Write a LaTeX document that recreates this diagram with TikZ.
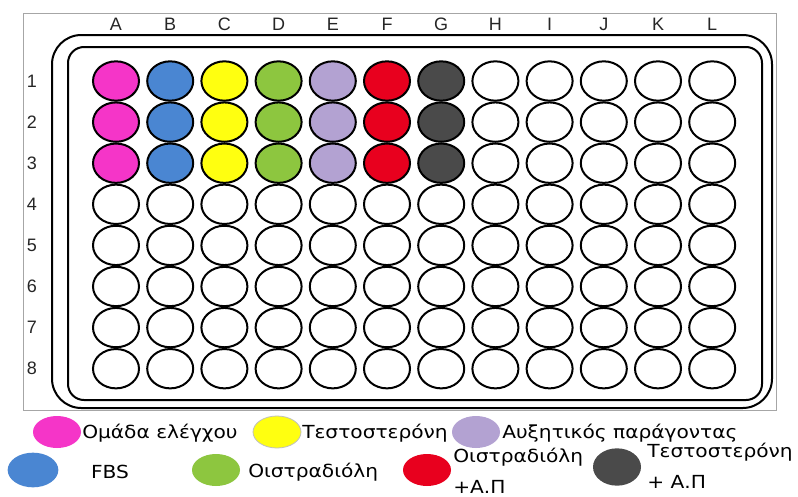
\documentclass[tikz,border=0pt]{standalone}
\usepackage{fontspec}
\setmainfont{Liberation Sans}
\newfontfamily\legfont[FakeStretch=1.12]{DejaVu Sans}
\usetikzlibrary{shapes.geometric}
\definecolor{cmag}{HTML}{F535C8}
\definecolor{cblue}{HTML}{4A86D2}
\definecolor{cyel}{HTML}{FFFF10}
\definecolor{cgreen}{HTML}{8DC63F}
\definecolor{clav}{HTML}{B3A2D2}
\definecolor{cred}{HTML}{E8001E}
\definecolor{cdark}{HTML}{4A4A4A}
\tikzset{
  well/.style={ellipse, draw=black, line width=1.5pt, minimum width=34.5pt, minimum height=29.5pt, inner sep=0pt},
  legdot/.style={ellipse, minimum width=36pt, minimum height=24pt, inner sep=0pt},
  legtext/.style={font=\legfont\fontsize{13.5}{15}\selectfont, anchor=west, inner sep=0pt},
  lab/.style={font=\fontsize{13.5}{14}\selectfont, text=black!85, inner sep=0pt},
  plate/.style={draw=black, line width=1.5pt}
}
\begin{document}
\begin{tikzpicture}[x=0.75pt,y=-0.75pt]
\useasboundingbox (0,0) rectangle (798,496);
\fill[white] (0,0) rectangle (798,496);
\draw[draw=gray!70, fill=white] (23,13) rectangle (776,410);
\draw[plate, rounded corners=22pt] (52,35) rectangle (772,408);
\draw[plate, rounded corners=12pt] (68,47) rectangle (762,400);
\foreach \c [count=\i] in {A,B,C,D,E,F,G,H,I,J,K,L}{
  \node[lab] (col-\c) at ({116+(\i-1)*54.2},24) {\c};
}
\foreach \r in {1,...,8}{
  \node[lab] (row-\r) at (32,{81+(\r-1)*41.1}) {\r};
}
\foreach \c/\col [count=\i] in {A/cmag,B/cblue,C/cyel,D/cgreen,E/clav,F/cred,G/cdark,H/white,I/white,J/white,K/white,L/white}{
  \foreach \r in {1,...,8}{
    \ifnum\r<4
      \node[well, fill=\col] (w-\c-\r) at ({116+(\i-1)*54.2},{81+(\r-1)*41.1}) {};
    \else
      \node[well, fill=white] (w-\c-\r) at ({116+(\i-1)*54.2},{81+(\r-1)*41.1}) {};
    \fi
  }
}
% legend
\node[legdot, fill=cmag] (l1) at (57,432) {};
\node[legtext] (t1) at (82,433) {Ομάδα ελέγχου};
\node[legdot, fill=cyel, draw=gray!50, line width=0.6pt] (l2) at (277,432) {};
\node[legtext] (t2) at (302,433) {Τεστοστερόνη};
\node[legdot, fill=clav] (l3) at (476,432) {};
\node[legtext] (t3) at (502,433) {Αυξητικός παράγοντας};
\node[legdot, fill=cblue, minimum width=38pt, minimum height=26pt] (l4) at (33,470) {};
\node[legtext, anchor=center] (t4) at (110,472) {FBS};
\node[legdot, fill=cgreen] (l5) at (216,470) {};
\node[legtext] (t5) at (248,472) {Οιστραδιόλη};
\node[legdot, fill=cred] (l6) at (427,470) {};
\node[legtext] (t6a) at (453,457) {Οιστραδιόλη};
\node[legtext] (t6b) at (453,487) {+Α.Π};
\node[legdot, fill=cdark, minimum height=28pt] (l7) at (617,467) {};
\node[legtext] (t7a) at (647,452) {Τεστοστερόνη};
\node[legtext] (t7b) at (647,482) {+ Α.Π};
\end{tikzpicture}
\end{document}
